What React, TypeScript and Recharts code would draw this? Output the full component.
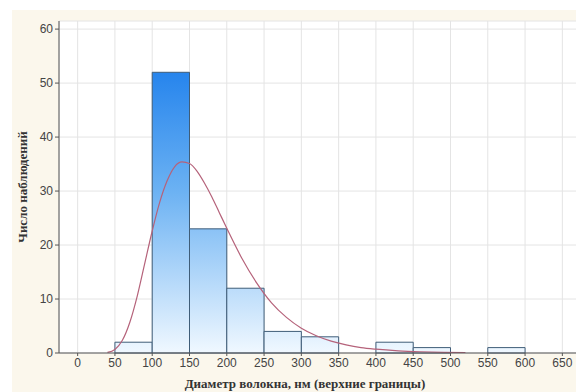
import { ComposedChart, Line, XAxis, YAxis, CartesianGrid, ReferenceArea } from 'recharts'

// histogram bins (upper bounds) and counts
const binLow = [50, 100, 150, 200, 250, 300, 350, 400, 450, 500, 550, 600]
const binHigh = [100, 150, 200, 250, 300, 350, 400, 450, 500, 550, 600, 650]
const counts = [2, 52, 23, 12, 4, 3, 0, 2, 1, 0, 1, 0]

// fitted curve
const curveX = [40, 50, 60, 70, 80, 90, 100, 110, 120, 130, 140, 150, 160, 170, 180, 190, 200, 220, 240, 260, 280, 300, 320, 340, 360, 380, 400, 430, 460, 490, 520]
const curveY = [0.1, 0.66, 2.35, 5.7, 10.6, 16.6, 22.6, 27.9, 31.9, 34.5, 35.4, 35.1, 33.7, 31.5, 28.9, 26.0, 23.1, 17.6, 13.0, 9.3, 6.6, 4.6, 3.2, 2.2, 1.5, 1.0, 0.7, 0.4, 0.23, 0.13, 0.08]

const xTicks = [0, 50, 100, 150, 200, 250, 300, 350, 400, 450, 500, 550, 600, 650]
const yTicks = [0, 10, 20, 30, 40, 50, 60]

const curveData = curveX.map((x, i) => ({ x, y: curveY[i] }))

const tickStyle = { fill: '#444', fontSize: 12, fontFamily: 'Liberation Sans, Arial, sans-serif' }
const titleStyle = { fill: '#333', fontSize: 13, fontWeight: 600, fontFamily: 'Liberation Serif, Times New Roman, serif' }

export default function App() {
  return (
    <div style={{ position: 'absolute', left: 0, top: 0, width: 576, height: 392, overflow: 'hidden', background: '#fff' }}>
      <div style={{ position: 'absolute', left: 12, top: 10, right: 0, bottom: 0, background: '#fbf7ec' }} />
      <div style={{ position: 'absolute', left: 0, top: 0 }}>
        <ComposedChart
          width={600}
          height={392}
          data={curveData}
          margin={{ top: 21, right: 19, left: 0, bottom: 0 }}
        >
          <defs>
            <linearGradient id="barFill" gradientUnits="userSpaceOnUse" x1="0" y1="60" x2="0" y2="353">
              <stop offset="0" stopColor="#1f80ec" />
              <stop offset="0.45" stopColor="#6cb2f3" />
              <stop offset="1" stopColor="#f0f8ff" />
            </linearGradient>
          </defs>
          <CartesianGrid stroke="#e4e4e4" fill="#fff" ticks={undefined} />
          <XAxis
            dataKey="x"
            type="number"
            domain={[-25, 675]}
            ticks={xTicks}
            interval={0}
            allowDataOverflow
            height={39}
            tick={tickStyle}
            tickSize={3}
            axisLine={{ stroke: '#555' }}
            tickLine={{ stroke: '#555' }}
            label={{ value: 'Диаметр волокна, нм (верхние границы)', position: 'insideBottom', offset: 4, dx: -15, style: titleStyle }}
          />
          <XAxis
            xAxisId="top"
            orientation="top"
            dataKey="x"
            type="number"
            domain={[-25, 675]}
            ticks={xTicks}
            interval={0}
            allowDataOverflow
            height={0}
            mirror
            tickSize={3}
            tickFormatter={() => ''}
            axisLine={{ stroke: '#555' }}
            tickLine={{ stroke: '#555' }}
          />
          <YAxis
            type="number"
            domain={[0, 61.5]}
            ticks={yTicks}
            interval={0}
            allowDataOverflow
            width={59}
            tick={tickStyle}
            tickSize={4}
            axisLine={{ stroke: '#555' }}
            tickLine={{ stroke: '#555' }}
            label={{ value: 'Число наблюдений', angle: -90, position: 'insideLeft', offset: 22, style: { ...titleStyle, textAnchor: 'middle' } }}
          />
          {binLow.map((lo, i) =>
            counts[i] > 0 ? (
              <ReferenceArea
                key={lo}
                x1={lo}
                x2={binHigh[i]}
                y1={0}
                y2={counts[i]}
                fill="url(#barFill)"
                fillOpacity={1}
                stroke="#3f5d78"
                strokeWidth={1}
                strokeOpacity={1}
              />
            ) : null
          )}
          <Line
            type="monotone"
            dataKey="y"
            stroke="#b5627a"
            strokeWidth={1.2}
            dot={false}
            isAnimationActive={false}
          />
        </ComposedChart>
      </div>
    </div>
  )
}
